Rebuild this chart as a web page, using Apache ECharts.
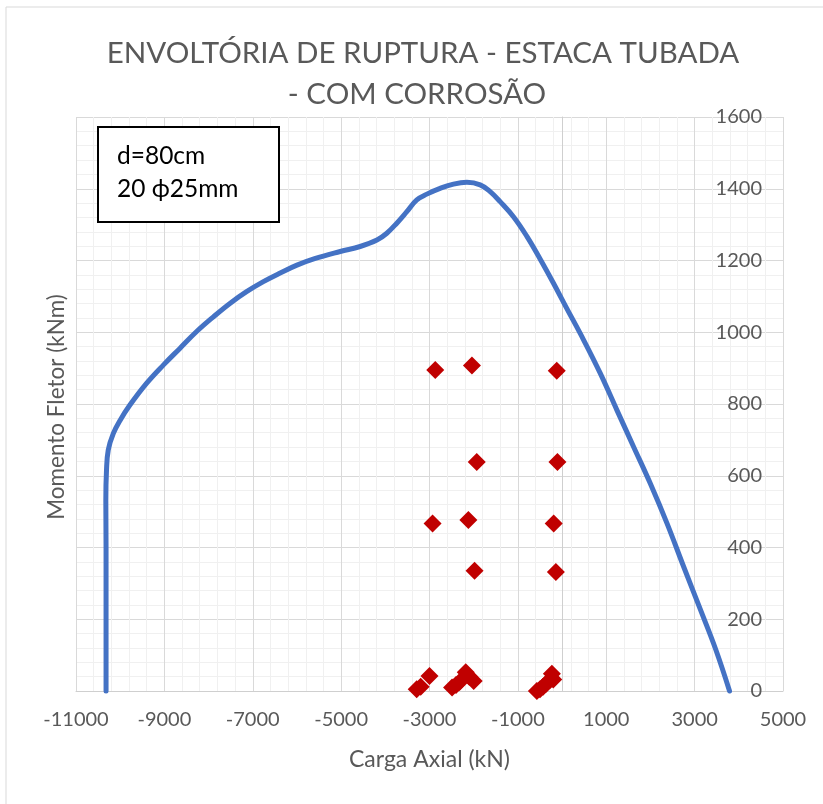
<!DOCTYPE html>
<html>
<head>
<meta charset="utf-8">
<script src="https://cdn.jsdelivr.net/npm/echarts@6/dist/echarts.min.js"></script>
<style>
  html, body { margin: 0; padding: 0; background: #fff; }
  #chart { width: 823px; height: 804px; }
</style>
</head>
<body>
<div id="chart"></div>
<script>
// Interaction envelope of the pile section (axial load vs bending moment)
const envelopeAxial = [
  -10320, -10320, -10320, -10325, -10310, -10270, -10155, -10000, -9780, -9400,
  -9020, -8650, -8270, -7890, -7510, -7140, -6760, -6380, -6000, -5600,
  -5020, -4570, -4190, -3966, -3740, -3513, -3287, -3060, -2760,
  -2457, -2155, -1853, -1627, -1401, -1100, -800, -500, -200, 100,
  486, 863, 1241, 1618, 1995, 2373, 2750, 3127, 3480, 3790
];
const envelopeMoment = [
  0, 200, 400, 530, 615, 672, 718, 755, 797, 858,
  909, 955, 1002, 1043, 1081, 1113, 1141, 1165, 1187, 1205,
  1225, 1239, 1257, 1276, 1304, 1336, 1369, 1385, 1401,
  1413, 1418, 1411, 1392, 1364, 1322, 1268, 1205, 1138, 1068,
  979, 886, 783, 681, 579, 468, 347, 228, 115, 0
];

// Load combinations acting on the piles
const loadAxial = [
  -2870, -2040, -120,
  -1930, -105,
  -2930, -2120, -190,
  -1980, -140,
  -3290, -3200, -3000,
  -2490, -2400, -2320, -2180, -2100, -2000,
  -570, -500, -430, -360, -280, -230, -200
];
const loadMoment = [
  895, 907, 893,
  638, 638,
  467, 477, 467,
  335, 332,
  5, 12, 42,
  10, 17, 25, 52, 40, 28,
  0, 5, 12, 20, 30, 48, 32
];

const titleLines = ['ENVOLTÓRIA DE RUPTURA - ESTACA TUBADA', '- COM CORROSÃO'];
const noteLines = ['d=80cm', '20 ϕ25mm'];
const xAxisTitle = 'Carga Axial (kN)';
const yAxisTitle = 'Momento Fletor (kNm)';

const FONT = 'Lato, "Open Sans", "DejaVu Sans", sans-serif';
const TEXT_GREY = '#595959';
const MAJOR_GRID = '#D9D9D9';
const MINOR_GRID = '#F0F0F0';

const envelopeData = envelopeAxial.map((x, i) => [x, envelopeMoment[i]]);
const loadData = loadAxial.map((x, i) => [x, loadMoment[i]]);

const plainNumber = v => String(v);

const chart = echarts.init(document.getElementById('chart'), null, { renderer: 'canvas' });

chart.setOption({
  backgroundColor: '#ffffff',
  animation: false,
  grid: { left: 76, right: 40, top: 117, bottom: 113, containLabel: false },
  xAxis: {
    type: 'value',
    min: -11000,
    max: 5000,
    interval: 2000,
    name: xAxisTitle,
    nameLocation: 'middle',
    nameGap: 57,
    nameTextStyle: { fontFamily: FONT, fontSize: 23, color: TEXT_GREY },
    axisLine: { show: true, lineStyle: { color: '#CFCFCF', width: 1 } },
    axisTick: { show: false },
    axisLabel: { fontFamily: FONT, fontSize: 20, color: TEXT_GREY, margin: 19, formatter: plainNumber },
    splitLine: { show: true, lineStyle: { color: MAJOR_GRID, width: 1 } },
    minorTick: { show: false, splitNumber: 5 },
    minorSplitLine: { show: true, lineStyle: { color: MINOR_GRID, width: 1 } }
  },
  yAxis: {
    type: 'value',
    position: 'right',
    min: 0,
    max: 1600,
    interval: 200,
    axisLine: { show: true, lineStyle: { color: '#CFCFCF', width: 1 } },
    axisTick: { show: false },
    axisLabel: { inside: true, fontFamily: FONT, fontSize: 20, color: TEXT_GREY, margin: 21, formatter: plainNumber },
    splitLine: { show: true, lineStyle: { color: MAJOR_GRID, width: 1 } },
    minorTick: { show: false, splitNumber: 5 },
    minorSplitLine: { show: true, lineStyle: { color: MINOR_GRID, width: 1 } }
  },
  series: [
    {
      name: 'Envoltória',
      type: 'line',
      data: envelopeData,
      smooth: 0.4,
      showSymbol: false,
      clip: false,
      lineStyle: { color: '#4472C4', width: 5, cap: 'round', join: 'round' },
      z: 3
    },
    {
      name: 'Solicitações',
      type: 'scatter',
      data: loadData,
      symbol: 'diamond',
      symbolSize: 18,
      clip: false,
      itemStyle: { color: '#C00000', opacity: 1 },
      z: 4
    }
  ],
  graphic: [
    {
      type: 'rect',
      silent: true,
      z: -10,
      shape: { x: 6, y: 7, width: 830, height: 810 },
      style: { fill: 'none', stroke: '#D9D9D9', lineWidth: 1 }
    },
    {
      type: 'text',
      x: 423, y: 53,
      style: {
        text: titleLines[0], fill: TEXT_GREY,
        font: '29.5px ' + FONT,
        textAlign: 'center', textVerticalAlign: 'middle', align: 'center', verticalAlign: 'middle'
      }
    },
    {
      type: 'text',
      x: 417, y: 94,
      style: {
        text: titleLines[1], fill: TEXT_GREY,
        font: '29.5px ' + FONT,
        textAlign: 'center', textVerticalAlign: 'middle', align: 'center', verticalAlign: 'middle'
      }
    },
    {
      type: 'text',
      x: 57, y: 407,
      rotation: Math.PI / 2,
      style: {
        text: yAxisTitle, fill: TEXT_GREY,
        font: '22.5px ' + FONT,
        textAlign: 'center', textVerticalAlign: 'middle', align: 'center', verticalAlign: 'middle'
      }
    },
    {
      type: 'rect',
      z: 10,
      shape: { x: 98, y: 127, width: 181, height: 95 },
      style: { fill: '#ffffff', stroke: '#000000', lineWidth: 2 }
    },
    {
      type: 'text',
      z: 11,
      x: 117, y: 156,
      style: {
        text: noteLines[0], fill: '#000000',
        font: '24.5px ' + FONT,
        textAlign: 'left', textVerticalAlign: 'middle', align: 'left', verticalAlign: 'middle'
      }
    },
    {
      type: 'text',
      z: 11,
      x: 117, y: 189,
      style: {
        text: noteLines[1], fill: '#000000',
        font: '24.5px ' + FONT,
        textAlign: 'left', textVerticalAlign: 'middle', align: 'left', verticalAlign: 'middle'
      }
    }
  ]
});
</script>
</body>
</html>
